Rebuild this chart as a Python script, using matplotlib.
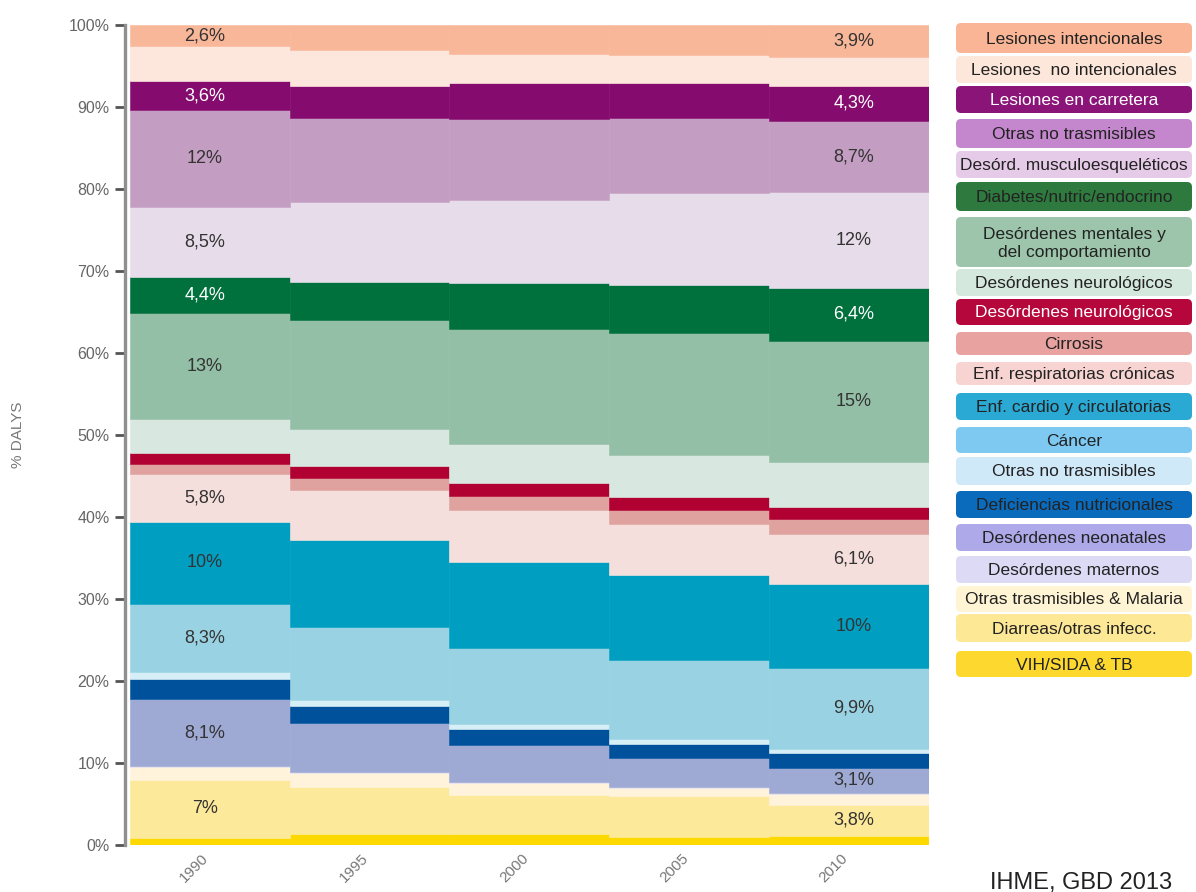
import numpy as np
import matplotlib.pyplot as plt
from matplotlib.patches import FancyBboxPatch

plt.rcParams['font.family'] = ['Liberation Sans', 'DejaVu Sans']

years = ['1990', '1995', '2000', '2005', '2010']

# % of DALYs by cause, listed from the bottom of the stack upwards
vih_tb = [0.9, 1.3, 1.3, 1.0, 1.1]
diarreas = [7.0, 5.8, 4.8, 5.0, 3.8]
otras_trasm_malaria = [1.65, 1.65, 1.45, 1.0, 1.35]
maternos = [0.1, 0.1, 0.1, 0.1, 0.1]
neonatales = [8.1, 6.0, 4.55, 3.5, 3.1]
deficiencias = [2.45, 2.15, 1.9, 1.7, 1.75]
otras_no_trasm_azul = [0.9, 0.7, 0.7, 0.6, 0.5]
cancer = [8.3, 8.9, 9.2, 9.7, 9.9]
cardio = [10.0, 10.6, 10.5, 10.3, 10.2]
respiratorias = [5.8, 6.1, 6.4, 6.2, 6.1]
cirrosis = [1.3, 1.4, 1.7, 1.8, 1.8]
neuro_rojo = [1.3, 1.5, 1.6, 1.5, 1.5]
neuro_verde = [4.1, 4.5, 4.7, 5.2, 5.5]
mentales = [13.0, 13.3, 14.0, 14.8, 14.8]
diabetes = [4.4, 4.7, 5.6, 5.9, 6.4]
musculo = [8.5, 9.7, 10.2, 11.2, 11.7]
otras_no_trasm_malva = [11.8, 10.3, 9.8, 9.1, 8.7]
carretera = [3.6, 3.9, 4.4, 4.3, 4.3]
no_intencionales = [4.2, 4.3, 3.6, 3.4, 3.5]
intencionales = [2.6, 3.1, 3.5, 3.7, 3.9]

# legend entries, top to bottom
legend_labels = [
    'Lesiones intencionales', 'Lesiones  no intencionales', 'Lesiones en carretera',
    'Otras no trasmisibles', 'Desórd. musculoesqueléticos', 'Diabetes/nutric/endocrino',
    'Desórdenes mentales y\ndel comportamiento', 'Desórdenes neurológicos',
    'Desórdenes neurológicos', 'Cirrosis', 'Enf. respiratorias crónicas',
    'Enf. cardio y circulatorias', 'Cáncer', 'Otras no trasmisibles',
    'Deficiencias nutricionales', 'Desórdenes neonatales', 'Desórdenes maternos',
    'Otras trasmisibles & Malaria', 'Diarreas/otras infecc.', 'VIH/SIDA & TB',
]

series = [vih_tb, diarreas, otras_trasm_malaria, maternos, neonatales, deficiencias,
          otras_no_trasm_azul, cancer, cardio, respiratorias, cirrosis, neuro_rojo,
          neuro_verde, mentales, diabetes, musculo, otras_no_trasm_malva, carretera,
          no_intencionales, intencionales]

bar_colors = ['#fdd900', '#fde99a', '#fff3dc', '#e4e0f0', '#9eaad4', '#00519c',
              '#d6eef5', '#99d3e3', '#009fc2', '#f5dfdc', '#e0a29e', '#b10032',
              '#d8e8e0', '#94bfa7', '#00703c', '#e7dcea', '#c49ec2', '#850c6e',
              '#fde7dc', '#f9b799']

# legend swatches (top to bottom)
legend_colors = ['#f9b596', '#fde6da', '#8b1479', '#c486cc', '#e6cbe8', '#2e7a3e',
                 '#9cc5ab', '#d5e8dd', '#b5073b', '#e8a2a0', '#f7d4d2', '#2aa9d4',
                 '#7dc9f2', '#cfe9f9', '#0a6bbd', '#aeaaea', '#dcdaf5', '#fff5d5',
                 '#fde896', '#fdd92f']
legend_text_colors = ['#222222'] * 20
legend_text_colors[2] = 'white'
legend_text_colors[8] = 'white'
legend_tops = [23, 56, 86, 119, 151, 182, 217, 269, 299, 332, 362, 393, 427, 457,
               491, 524, 556, 586, 614, 651]
legend_bottoms = [53, 83, 113, 148, 178, 211, 267, 296, 325, 355, 385, 420, 453,
                  485, 518, 551, 583, 612, 642, 677]

# which layers carry value labels in the first and last column
labelled = [1, 4, 7, 8, 9, 13, 14, 15, 16, 17, 19]
white_labels = [14, 17]


def pct_label(v):
    if v >= 9.95:
        return f'{round(v):d}%'
    if abs(v - round(v)) < 0.05:
        return f'{round(v):d}%'
    return f'{v:.1f}%'.replace('.', ',')


fig = plt.figure(figsize=(11.96, 8.92), dpi=100)
ax = fig.add_axes([125 / 1196, 47 / 892, 804 / 1196, 820 / 892])

x = np.arange(len(years))
bottom = np.zeros(len(years))
for i, (vals, col) in enumerate(zip(series, bar_colors)):
    vals = np.array(vals)
    ax.bar(x, vals, width=1.0, bottom=bottom, color=col, edgecolor=col,
           linewidth=0.4)
    if i in labelled:
        tc = 'white' if i in white_labels else '#333333'
        for j in (0, len(years) - 1):
            ax.text(x[j] - 0.03 if j == 0 else x[j] + 0.03, bottom[j] + vals[j] / 2,
                    pct_label(vals[j]), ha='center', va='center',
                    fontsize=13, color=tc)
    bottom = bottom + vals

ax.set_xlim(-0.53, 4.5)
ax.set_ylim(0, 100)
for s in ('top', 'right', 'bottom'):
    ax.spines[s].set_visible(False)
ax.spines['left'].set_color('#8f8f8f')
ax.spines['left'].set_linewidth(2.4)
ax.set_yticks(range(0, 101, 10))
ax.set_yticklabels([f'{v}%' for v in range(0, 101, 10)])
ax.tick_params(axis='y', length=7, width=2, color='#555555', pad=4,
               labelsize=11.5, labelcolor='#666666')
ax.set_xticks(x - 0.02)
ax.set_xticklabels(years, rotation=45, ha='right', va='center',
                   rotation_mode='anchor', fontsize=11, color='#777777')
ax.tick_params(axis='x', length=0, pad=8)

fig.text(18 / 1196, 1 - 435 / 892, '% DALYS', rotation=90, ha='center',
         va='center', fontsize=11, color='#777777')

# legend drawn as rounded boxes in pixel coordinates
lax = fig.add_axes([0, 0, 1, 1])
lax.set_xlim(0, 1196)
lax.set_ylim(892, 0)
lax.axis('off')
for lab, fc, tc, top, bot in zip(legend_labels, legend_colors, legend_text_colors,
                                 legend_tops, legend_bottoms):
    lax.add_patch(FancyBboxPatch((956, top), 236, bot - top,
                                 boxstyle='round,pad=0,rounding_size=5',
                                 fc=fc, ec='none'))
    lax.text(1074, (top + bot) / 2 + 1, lab, ha='center', va='center',
             fontsize=12.5, color=tc, linespacing=1.25)

fig.text(1081 / 1196, 3 / 892, 'IHME, GBD 2013', ha='center', va='baseline',
         fontsize=17, color='#222222')

fig.savefig('out.png', dpi=100)
